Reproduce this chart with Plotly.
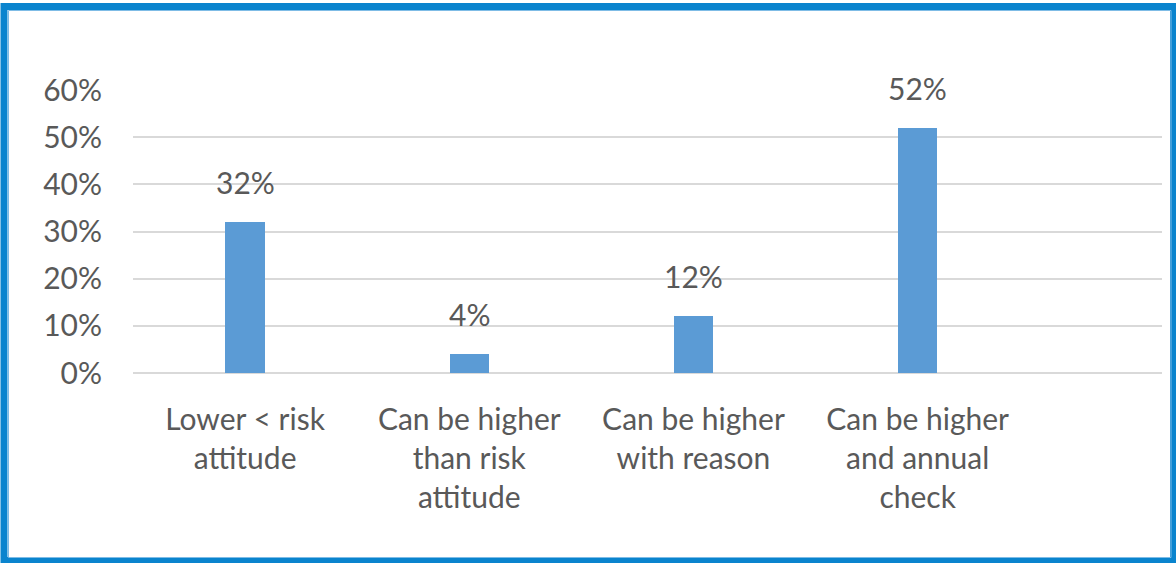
import plotly.graph_objects as go

# Survey answers and their shares
categories = [
    "Lower < risk<br>attitude",
    "Can be higher<br>than risk<br>attitude",
    "Can be higher<br>with reason",
    "Can be higher<br>and annual<br>check",
]
shares = [0.32, 0.04, 0.12, 0.52]
y_ticks = [0, 0.1, 0.2, 0.3, 0.4, 0.5, 0.6]

W, H = 1176, 563
L, R, T, B = 133, 14, 90, 190
text_color = "#595959"
font_family = "Lato, 'Open Sans', sans-serif"
font_size = 30

fig = go.Figure()
fig.add_trace(go.Bar(
    x=categories,
    y=shares,
    width=0.175,
    marker=dict(color="#5B9BD5", line=dict(width=0)),
    hoverinfo="skip",
))

# Value labels above each bar
for c, v in zip(categories, shares):
    fig.add_annotation(
        x=c, y=v, xref="x", yref="y",
        text=f"{round(v * 100)}%",
        showarrow=False, yanchor="bottom", yshift=20,
        font=dict(family=font_family, size=font_size, color=text_color),
    )

# Blue frame around the whole chart
pw, ph = W - L - R, H - T - B
def px_x(p):
    return (p - L) / pw
def px_y(p):
    return (H - B - p) / ph

fig.add_shape(
    type="rect", xref="paper", yref="paper",
    x0=px_x(4), x1=px_x(1173.5), y0=px_y(6.5), y1=px_y(560.5),
    line=dict(color="#0A84CE", width=7), fillcolor="rgba(0,0,0,0)",
)
fig.add_shape(
    type="rect", xref="paper", yref="paper",
    x0=px_x(8.5), x1=px_x(1171), y0=px_y(10.5), y1=px_y(557.5),
    line=dict(color="#7FBCE6", width=1), fillcolor="rgba(0,0,0,0)",
)

fig.update_layout(
    width=W, height=H,
    margin=dict(l=L, r=R, t=T, b=B, pad=0),
    paper_bgcolor="white", plot_bgcolor="white",
    showlegend=False,
    font=dict(family=font_family, size=font_size, color=text_color),
    bargap=0,
)
fig.update_xaxes(
    type="category",
    range=[-0.5, 4.09],
    showgrid=False, showline=False, zeroline=False,
    ticks="", ticklabelstandoff=26,
    tickfont=dict(family=font_family, size=font_size, color=text_color),
)
fig.update_yaxes(
    range=[0, 0.6],
    tickvals=y_ticks,
    tickformat=".0%",
    showgrid=True, gridcolor="#D9D9D9", gridwidth=1.5,
    zeroline=True, zerolinecolor="#D9D9D9", zerolinewidth=1.5,
    showline=False, ticks="", ticklabelstandoff=30,
    tickfont=dict(family=font_family, size=font_size, color=text_color),
)

fig.write_html("out.html")
